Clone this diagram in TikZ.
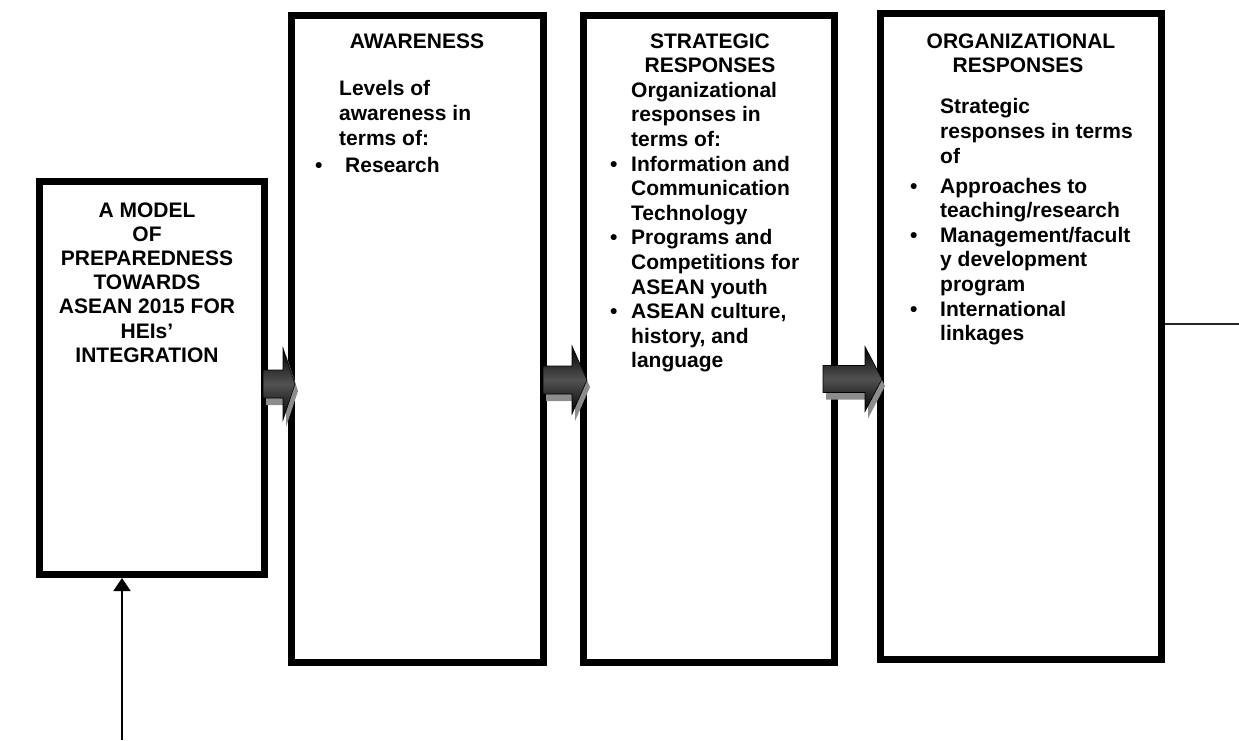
\documentclass[tikz,border=0pt]{standalone}
\usepackage{fontspec}
\setmainfont{Liberation Sans}
\usetikzlibrary{arrows.meta}

% shaded block arrow: #1 shaft start x, #2 head start x, #3 tip x,
% #4 centre y, #5 half shaft height, #6 half head height
\newcommand\blockarrow[6]{%
  \fill[arrshadow] ({#1+3},{#4-#5+7}) -- ({#2+3},{#4-#5+7}) -- ({#2+3},{#4-#6+7})
    -- ({#3+3},{#4+7}) -- ({#2+3},{#4+#6+7}) -- ({#2+3},{#4+#5+7})
    -- ({#1+3},{#4+#5+7}) -- cycle;
  \path[arrbody] (#1,{#4-#5}) -- (#2,{#4-#5}) -- (#2,{#4-#6}) -- (#3,#4)
    -- (#2,{#4+#6}) -- (#2,{#4+#5}) -- (#1,{#4+#5}) -- cycle;
}

\begin{document}
\begin{tikzpicture}[x=1pt,y=-1pt,
  box/.style={draw=black, line width=7pt, fill=white, inner sep=0pt},
  txt/.style={font=\bfseries\fontsize{21}{24.6}\selectfont, inner sep=0pt, text=black},
  lft/.style={txt, anchor=base west},
  ctr/.style={txt, anchor=base},
  arrbody/.style={top color=black, bottom color=black, middle color=black!68, draw=black, line width=0.6pt},
  arrshadow/.style={fill=black!45}]
\useasboundingbox (0,0) rectangle (1239,740);

% the four boxes
\node[box, minimum width=225pt, minimum height=393pt] (b1) at (152,378) {};
\node[box, minimum width=252pt, minimum height=647pt] (b2) at (417.5,339) {};
\node[box, minimum width=251pt, minimum height=647pt] (b3) at (709,339) {};
\node[box, minimum width=281pt, minimum height=646pt] (b4) at (1021,336.5) {};

% block arrows between the boxes
\blockarrow{263}{283}{295}{384}{14}{36}
\blockarrow{543}{572}{587}{380}{14}{34}
\blockarrow{823}{865}{882}{379}{13.5}{32.5}

% input arrow into the model box
\coordinate (src) at (122,740);
\draw[line width=1.8pt, -{Triangle[width=17pt,length=13pt]}] (src) -- (src |- b1.south);

% output line from the last box
\coordinate (out) at (1239,324);
\draw[line width=2pt, black!85] (out -| b4.east) -- (out);

% model box text
\foreach \t [count=\i from 0] in {A MODEL, OF, PREPAREDNESS, TOWARDS, ASEAN 2015 FOR, HEIs’, INTEGRATION}
  \node[ctr, name=m\i] at (147,{217+24.2*\i}) {\t};

% awareness box text
\node[ctr] (aw) at (417,48) {AWARENESS};
\foreach \t [count=\i from 0] in {Levels of, awareness in, terms of:}
  \node[lft, name=a\i] at (339,{95+25*\i}) {\t};
\node[lft] (ab0) at (315,172) {\textbullet};
\node[lft] (a3) at (345,172) {Research};

% strategic responses box text
\node[ctr] (sh1) at (710,48) {STRATEGIC};
\node[ctr] (sh2) at (710,72.6) {RESPONSES};
\foreach \t [count=\i from 2] in {Organizational, responses in, terms of:,
    Information and, Communication, Technology,
    Programs and, Competitions for, ASEAN youth,
    {ASEAN culture,}, {history, and}, language}
  \node[lft, name=s\i] at (631,{48+24.6*\i}) {\t};
\foreach \i in {5,8,11}
  \node[lft, name=sb\i] at (610,{48+24.6*\i}) {\textbullet};

% organizational responses box text
\node[ctr] (oh1) at (1021,48) {ORGANIZATIONAL};
\node[ctr] (oh2) at (1018,72.6) {RESPONSES};
\foreach \t [count=\i from 0] in {Strategic, responses in terms, of}
  \node[lft, name=o\i] at (940,{113+25*\i}) {\t};
\foreach \t [count=\i from 0] in {Approaches to, teaching/research, Management/facult,
    y development, program, International, linkages}
  \node[lft, name=p\i] at (940,{193+24.6*\i}) {\t};
\foreach \i in {0,2,5}
  \node[lft, name=pb\i] at (910,{193+24.6*\i}) {\textbullet};
\end{tikzpicture}
\end{document}
